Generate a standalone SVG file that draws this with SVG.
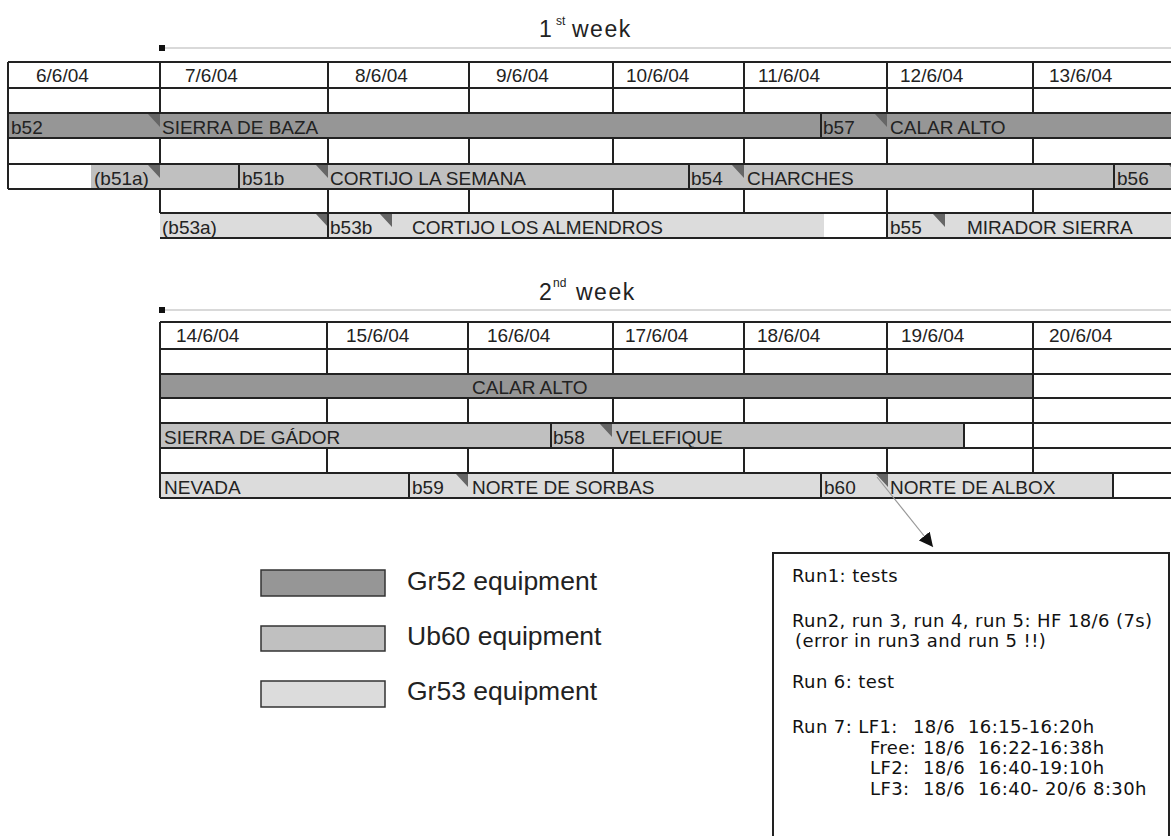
<svg xmlns="http://www.w3.org/2000/svg" width="1171" height="836" viewBox="0 0 1171 836">
<style>
.grid{stroke:#222;stroke-width:2;fill:none}
.t{font-family:"Liberation Sans",Arial,sans-serif;font-size:19px;fill:#222}
.title{font-family:"Liberation Sans",Arial,sans-serif;font-size:23px;fill:#222;letter-spacing:1.5px}
.sup{font-size:12px;letter-spacing:0}
.dk{fill:#969696}
.md{fill:#c0c0c0}
.lt{fill:#dcdcdc}
.tri{fill:#666}
.rule{stroke:#cccccc;stroke-width:1.5}
.leg{font-family:"Liberation Sans",Arial,sans-serif;font-size:26.5px;fill:#222}
.legbox{stroke:#333;stroke-width:1.5}
.note{font-family:"DejaVu Sans",Verdana,sans-serif;font-size:18px;fill:#111;letter-spacing:0.4px}
.conn{stroke:#999;stroke-width:1.2;fill:none}
</style>
<defs>
<marker id="arrow" markerUnits="userSpaceOnUse" markerWidth="16" markerHeight="14" refX="14" refY="7" orient="auto">
<path d="M0,0 L14,7 L0,14 Z" fill="#111"/>
</marker>
</defs>
<rect width="1171" height="836" fill="#fff"/>

<g id="week1">
<text class="title" x="539" y="37">1<tspan class="sup" x="556" y="25">st</tspan> <tspan x="572" y="37">week</tspan></text>
<line class="rule" x1="162" y1="48" x2="1171" y2="48"/>
<rect x="159" y="45" width="6" height="6" fill="#111"/>
<rect class="dk" x="8" y="113" width="1163" height="25"/>
<rect class="md" x="91" y="164" width="1080" height="25"/>
<rect class="lt" x="160" y="213" width="664" height="25"/>
<rect class="lt" x="887" y="213" width="284" height="25"/>
<path class="tri" d="M148,114H160V127Z M875,114H887V127Z M148,165H160V178Z M316,165H328V178Z M732,165H744V178Z M1169,165H1181V178Z M316,214H328V227Z M380,214H392V227Z M933,214H945V227Z"/>
<path class="grid" d="M8,62H1171 M8,88H1171 M8,113H1171 M8,138H1171 M8,164H1171 M8,189H1171 M160,213H1171 M160,238H1171
M8,62V189
M160,62V113 M328,62V113 M469,62V113 M613,62V113 M744,62V113 M887,62V113 M1033,62V113
M160,138V164 M328,138V164 M469,138V164 M613,138V164 M744,138V164 M887,138V164 M1033,138V164
M160,189V213 M328,189V213 M469,189V213 M613,189V213 M744,189V213 M887,189V213 M1033,189V213
M821,113V138
M239,164V189 M689,164V189 M1114,164V189
M328,213V238 M887,213V238"/>
<g class="t">
<text x="36" y="82">6/6/04</text>
<text x="185" y="82">7/6/04</text>
<text x="355" y="82">8/6/04</text>
<text x="496" y="82">9/6/04</text>
<text x="626" y="82">10/6/04</text>
<text x="758" y="82">11/6/04</text>
<text x="900" y="82">12/6/04</text>
<text x="1049" y="82">13/6/04</text>
<text x="11" y="134">b52</text>
<text x="162" y="134">SIERRA DE BAZA</text>
<text x="823" y="134">b57</text>
<text x="890" y="134">CALAR ALTO</text>
<text x="94" y="185">(b51a)</text>
<text x="242" y="185">b51b</text>
<text x="330" y="185">CORTIJO LA SEMANA</text>
<text x="691" y="185">b54</text>
<text x="747" y="185">CHARCHES</text>
<text x="1117" y="185">b56</text>
<text x="162" y="234">(b53a)</text>
<text x="330" y="234">b53b</text>
<text x="412" y="234">CORTIJO LOS ALMENDROS</text>
<text x="890" y="234">b55</text>
<text x="967" y="234">MIRADOR SIERRA</text>
</g>
</g>

<g id="week2">
<text class="title" x="539" y="300">2<tspan class="sup" x="553" y="287">nd</tspan> <tspan x="576" y="300">week</tspan></text>
<line class="rule" x1="162" y1="310" x2="1171" y2="310"/>
<rect x="159" y="307" width="6" height="6" fill="#111"/>
<rect class="dk" x="160" y="374" width="873" height="24"/>
<rect class="md" x="160" y="423" width="804" height="25"/>
<rect class="lt" x="160" y="473" width="953" height="25"/>
<path class="tri" d="M600,424H612V437Z M456,474H468V487Z M876,474H888V487Z"/>
<path class="grid" d="M160,322H1171 M160,349H1171 M160,374H1171 M160,398H1171 M160,423H1171 M160,448H1171 M160,473H1171 M160,498H1171
M160,322V498
M327,322V374 M468,322V374 M613,322V374 M744,322V374 M887,322V374 M1033,322V374
M327,398V423 M468,398V423 M613,398V423 M744,398V423 M887,398V423 M1033,398V423
M327,448V473 M468,448V473 M613,448V473 M744,448V473 M887,448V473 M1033,448V473
M1033,374V398 M1033,423V448
M551,423V448 M964,423V448
M409,473V498 M821,473V498 M1113,473V498"/>
<g class="t">
<text x="176" y="342">14/6/04</text>
<text x="346" y="342">15/6/04</text>
<text x="487" y="342">16/6/04</text>
<text x="625" y="342">17/6/04</text>
<text x="757" y="342">18/6/04</text>
<text x="901" y="342">19/6/04</text>
<text x="1049" y="342">20/6/04</text>
<text x="472" y="394">CALAR ALTO</text>
<text x="164" y="444">SIERRA DE GÁDOR</text>
<text x="553" y="444">b58</text>
<text x="616" y="444">VELEFIQUE</text>
<text x="164" y="494">NEVADA</text>
<text x="412" y="494">b59</text>
<text x="472" y="494">NORTE DE SORBAS</text>
<text x="824" y="494">b60</text>
<text x="890" y="494">NORTE DE ALBOX</text>
</g>
</g>

<g id="legend">
<g id="legend-gr52">
<rect class="dk legbox" x="261" y="570" width="124" height="26"/>
<text class="leg" x="407" y="590">Gr52 equipment</text>
</g>
<g id="legend-ub60">
<rect class="md legbox" x="261" y="626" width="124" height="25"/>
<text class="leg" x="407" y="644.5">Ub60 equipment</text>
</g>
<g id="legend-gr53">
<rect class="lt legbox" x="261" y="681" width="124" height="26"/>
<text class="leg" x="407" y="699.5">Gr53 equipment</text>
</g>
</g>

<g id="connectors">
<line class="conn" x1="877" y1="477" x2="933" y2="547" marker-end="url(#arrow)"/>
</g>

<g id="notes">
<rect x="773" y="553" width="396" height="300" fill="#fff" stroke="#222" stroke-width="2"/>
<g class="note">
<text x="792" y="582">Run1: tests</text>
<text x="792" y="627">Run2, run 3, run 4, run 5: HF 18/6 (7s)</text>
<text x="795" y="647">(error in run3 and run 5 !!)</text>
<text x="792" y="688">Run 6: test</text>
<text x="792" y="733">Run 7: LF1: <tspan x="913">18/6</tspan> <tspan x="968">16:15-16:20h</tspan></text>
<text x="870" y="754">Free: <tspan x="923">18/6</tspan> <tspan x="978">16:22-16:38h</tspan></text>
<text x="870" y="774">LF2: <tspan x="923">18/6</tspan> <tspan x="978">16:40-19:10h</tspan></text>
<text x="870" y="795">LF3: <tspan x="923">18/6</tspan> <tspan x="978">16:40- 20/6 8:30h</tspan></text>
</g>
</g>
</svg>
